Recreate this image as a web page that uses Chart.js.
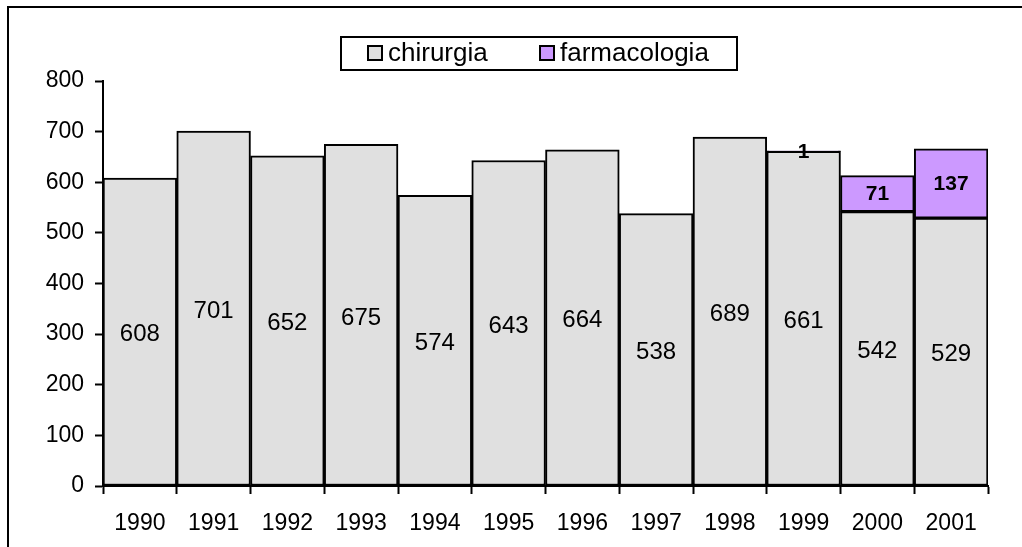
<!DOCTYPE html>
<html>
<head>
<meta charset="utf-8">
<script src="https://cdn.jsdelivr.net/npm/chart.js@4/dist/chart.umd.min.js"></script>
<style>
  html, body { margin: 0; padding: 0; background: #fff; }
  #wrap { width: 1022px; height: 547px; position: relative; }
</style>
</head>
<body>
<div id="wrap"><canvas id="chart"></canvas></div>
<script>
// data
var years = ["1990", "1991", "1992", "1993", "1994", "1995", "1996", "1997", "1998", "1999", "2000", "2001"];
var chirurgia = [608, 701, 652, 675, 574, 643, 664, 538, 689, 661, 542, 529];
var farmacologia = [null, null, null, null, null, null, null, null, null, 1, 71, 137];
var seriesNames = ["chirurgia", "farmacologia"];
var seriesColors = ["#E0E0E0", "#CC99FF"];

var FONT = "Arial, 'Liberation Sans', sans-serif";

// frame: only top and left edges show in the original (rest is cropped)
var framePlugin = {
  id: 'frame',
  beforeDraw: function(chart) {
    var c = chart.ctx;
    c.save();
    c.fillStyle = '#fff';
    c.fillRect(0, 0, chart.width, chart.height);
    c.strokeStyle = '#000';
    c.lineWidth = 2;
    c.beginPath();
    c.moveTo(8, chart.height);
    c.lineTo(8, 7);
    c.lineTo(chart.width, 7);
    c.stroke();
    c.restore();
  }
};

// boxed legend, like the original
var boxLegend = {
  id: 'boxLegend',
  afterDraw: function(chart) {
    var c = chart.ctx;
    c.save();
    c.strokeStyle = '#000';
    c.lineWidth = 2;
    c.strokeRect(341, 37, 396, 33);
    var xs = [368, 540];
    c.font = '26px ' + FONT;
    c.textBaseline = 'middle';
    chart.data.datasets.forEach(function(ds, i) {
      c.fillStyle = ds.backgroundColor;
      c.fillRect(xs[i], 46, 14, 14);
      c.lineWidth = 2;
      c.strokeRect(xs[i], 46, 14, 14);
      c.fillStyle = '#000';
      c.fillText(ds.label, xs[i] + 20, 54);
    });
    c.restore();
  }
};

// value labels centred in each segment
var valueLabels = {
  id: 'valueLabels',
  afterDatasetsDraw: function(chart) {
    var c = chart.ctx;
    c.save();
    c.fillStyle = '#000';
    c.textAlign = 'center';
    c.textBaseline = 'middle';
    chart.data.datasets.forEach(function(ds, i) {
      var meta = chart.getDatasetMeta(i);
      c.font = i === 0 ? ('24px ' + FONT) : ('bold 21px ' + FONT);
      meta.data.forEach(function(bar, j) {
        var v = ds.data[j];
        if (v === null || v === undefined) return;
        var y = (bar.y + bar.base) / 2;
        c.fillText(String(v), bar.x, y + (i === 0 ? 3 : 1));
      });
    });
    c.restore();
  }
};

var ctx = document.getElementById('chart');

var chartData = {
  labels: years,
  datasets: [{
    label: seriesNames[0],
    data: chirurgia,
    backgroundColor: seriesColors[0],
    borderColor: '#000',
    borderWidth: 2,
    borderSkipped: false,
    barPercentage: 1,
    categoryPercentage: 1
  }, {
    label: seriesNames[1],
    data: farmacologia,
    backgroundColor: seriesColors[1],
    borderColor: '#000',
    borderWidth: 2,
    borderSkipped: false,
    barPercentage: 1,
    categoryPercentage: 1
  }]
};

var chartOptions = {
  responsive: true,
  maintainAspectRatio: false,
  animation: false,
  layout: { padding: { top: 81, right: 34, left: 0, bottom: 0 } },
  plugins: {
    legend: { display: false },
    tooltip: { enabled: false }
  },
  scales: {
    x: {
      stacked: true,
      offset: true,
      grid: {
        offset: true,
        drawOnChartArea: false,
        drawTicks: true,
        tickLength: 8,
        tickWidth: 2,
        tickColor: '#000'
      },
      border: { display: true, color: '#000', width: 2 },
      ticks: { color: '#000', font: { family: FONT, size: 23 }, padding: 16, maxRotation: 0 },
      afterFit: function(scale) { scale.height = 61; }
    },
    y: {
      stacked: true,
      min: 0,
      max: 800,
      grid: {
        drawOnChartArea: false,
        drawTicks: true,
        tickLength: 8,
        tickWidth: 2,
        tickColor: '#000'
      },
      border: { display: true, color: '#000', width: 2 },
      ticks: { stepSize: 100, color: '#000', font: { family: FONT, size: 23 }, padding: 11 },
      afterFit: function(scale) { scale.width = 103; }
    }
  }
};

var config = {
  type: 'bar',
  data: chartData,
  options: chartOptions,
  plugins: [framePlugin, valueLabels, boxLegend]
};

new Chart(ctx, config);
</script>
</body>
</html>
